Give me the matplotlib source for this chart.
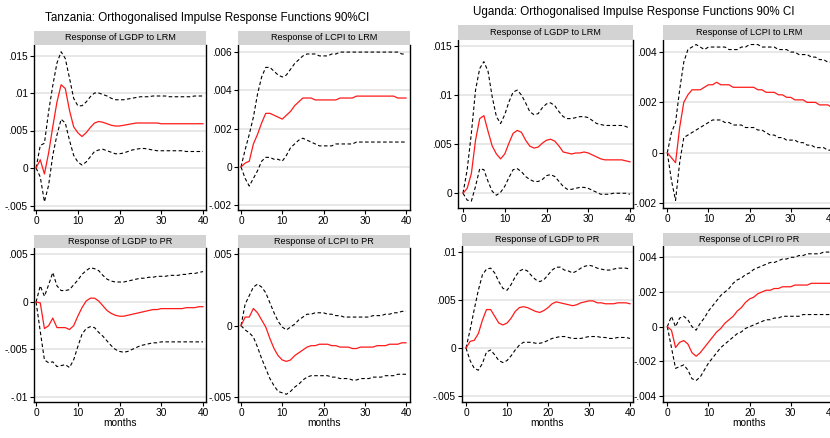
import matplotlib
matplotlib.use("Agg")
import matplotlib.pyplot as plt
import numpy as np

plt.rcParams['font.family'] = ['Liberation Sans', 'DejaVu Sans']

months = list(range(41))
x_ticks = [0, 10, 20, 30, 40]

# ---------------- Tanzania ----------------
tz_lgdp_lrm_irf = [0, .0011, -.0008, .0020, .0055, .0088, .0111, .0106, .0077, .0055, .0047,
                   .0042, .0047, .0054, .0060, .0062, .0061, .0059, .0057, .0056, .0056,
                   .0057, .0058, .0059, .0060, .0060, .0060, .0060, .0060, .0060, .0059,
                   .0059, .0059, .0059, .0059, .0059, .0059, .0059, .0059, .0059, .0059]
tz_lgdp_lrm_hi = [0, .0030, .0033, .0075, .0110, .0140, .0155, .0146, .0120, .0093, .0083,
                  .0083, .0088, .0095, .0100, .0100, .0098, .0096, .0093, .0091, .0091,
                  .0091, .0092, .0093, .0094, .0095, .0095, .0095, .0096, .0096, .0096,
                  .0096, .0095, .0095, .0095, .0095, .0095, .0095, .0096, .0096, .0096]
tz_lgdp_lrm_lo = [0, -.0012, -.0045, -.0023, .0017, .0044, .0065, .0060, .0037, .0017, .0008,
                  .0004, .0008, .0015, .0022, .0024, .0025, .0023, .0021, .0019, .0019,
                  .0020, .0022, .0024, .0025, .0026, .0026, .0025, .0024, .0023, .0023,
                  .0023, .0023, .0023, .0023, .0023, .0022, .0022, .0022, .0022, .0022]

tz_lcpi_lrm_irf = [0, .0002, .0003, .0012, .0017, .0023, .0028, .0028, .0027, .0026, .0025,
                   .0027, .0029, .0032, .0034, .0036, .0036, .0036, .0035, .0035, .0035,
                   .0035, .0035, .0035, .0036, .0036, .0036, .0036, .0037, .0037, .0037,
                   .0037, .0037, .0037, .0037, .0037, .0037, .0037, .0036, .0036, .0036]
tz_lcpi_lrm_hi = [0, .0009, .0017, .0026, .0038, .0047, .0052, .0052, .0050, .0048, .0047,
                  .0048, .0051, .0054, .0056, .0058, .0059, .0059, .0059, .0058, .0058,
                  .0058, .0059, .0059, .0060, .0060, .0060, .0060, .0060, .0060, .0060,
                  .0060, .0060, .0060, .0060, .0060, .0060, .0060, .0060, .0059, .0059]
tz_lcpi_lrm_lo = [0, -.0006, -.0010, -.0006, -.0002, .0003, .0005, .0005, .0004, .0004, .0003,
                  .0006, .0010, .0012, .0014, .0015, .0014, .0013, .0012, .0011, .0011,
                  .0011, .0011, .0012, .0012, .0012, .0012, .0012, .0013, .0013, .0013,
                  .0013, .0013, .0013, .0013, .0013, .0013, .0013, .0013, .0013, .0013]

tz_lgdp_pr_irf = [0, -.0001, -.0028, -.0025, -.0017, -.0027, -.0027, -.0027, -.0029, -.0025, -.0015,
                  -.0006, .0001, .0004, .0004, .0001, -.0004, -.0009, -.0012, -.0014, -.0015,
                  -.0015, -.0014, -.0013, -.0012, -.0011, -.0010, -.0009, -.0008, -.0008, -.0007,
                  -.0007, -.0007, -.0007, -.0007, -.0007, -.0006, -.0006, -.0006, -.0005, -.0005]
tz_lgdp_pr_hi = [0, .0017, .0006, .0018, .0031, .0017, .0012, .0012, .0013, .0018, .0023,
                 .0029, .0033, .0036, .0035, .0033, .0028, .0024, .0022, .0021, .0021,
                 .0021, .0022, .0023, .0024, .0025, .0025, .0026, .0026, .0027, .0027,
                 .0027, .0028, .0028, .0028, .0029, .0029, .0030, .0030, .0031, .0032]
tz_lgdp_pr_lo = [0, -.0031, -.0061, -.0064, -.0063, -.0068, -.0067, -.0066, -.0069, -.0061, -.0047,
                 -.0034, -.0028, -.0026, -.0027, -.0032, -.0036, -.0041, -.0046, -.0050, -.0052,
                 -.0053, -.0052, -.0050, -.0048, -.0046, -.0045, -.0044, -.0043, -.0043, -.0042,
                 -.0042, -.0042, -.0042, -.0042, -.0042, -.0042, -.0042, -.0042, -.0042, -.0042]

tz_lcpi_pr_irf = [0, .0006, .0006, .0012, .0009, .0004, -.0001, -.0009, -.0016, -.0021, -.0024,
                  -.0025, -.0024, -.0021, -.0019, -.0017, -.0015, -.0014, -.0014, -.0013, -.0013,
                  -.0013, -.0014, -.0014, -.0015, -.0015, -.0015, -.0016, -.0016, -.0015, -.0015,
                  -.0015, -.0015, -.0014, -.0014, -.0014, -.0013, -.0013, -.0013, -.0012, -.0012]
tz_lcpi_pr_hi = [0, .0015, .0021, .0027, .0029, .0027, .0023, .0016, .0009, .0003, -.0001,
                 -.0003, -.0001, .0001, .0004, .0006, .0008, .0008, .0009, .0009, .0009,
                 .0008, .0008, .0007, .0007, .0006, .0006, .0006, .0006, .0006, .0006,
                 .0006, .0007, .0007, .0007, .0008, .0008, .0009, .0009, .0010, .0010]
tz_lcpi_pr_lo = [0, -.0003, -.0005, -.0008, -.0015, -.0023, -.0030, -.0037, -.0042, -.0046, -.0047,
                 -.0048, -.0046, -.0043, -.0041, -.0038, -.0036, -.0035, -.0035, -.0035, -.0035,
                 -.0035, -.0036, -.0036, -.0037, -.0037, -.0037, -.0038, -.0038, -.0037, -.0037,
                 -.0037, -.0036, -.0036, -.0036, -.0035, -.0035, -.0035, -.0034, -.0034, -.0034]

# ---------------- Uganda ----------------
ug_lgdp_lrm_irf = [0, .0005, .0020, .0054, .0076, .0079, .0063, .0048, .0040, .0035, .0040,
                   .0051, .0061, .0064, .0062, .0054, .0048, .0046, .0047, .0051, .0054,
                   .0055, .0053, .0048, .0042, .0041, .0040, .0041, .0041, .0042, .0041,
                   .0039, .0037, .0035, .0034, .0034, .0034, .0034, .0034, .0033, .0032]
ug_lgdp_lrm_hi = [0, .0024, .0061, .0105, .0127, .0134, .0124, .0098, .0078, .0071, .0080,
                  .0093, .0103, .0105, .0100, .0092, .0083, .0080, .0081, .0087, .0091,
                  .0092, .0089, .0083, .0078, .0076, .0076, .0077, .0078, .0078, .0077,
                  .0074, .0071, .0070, .0069, .0069, .0069, .0069, .0069, .0068, .0066]
ug_lgdp_lrm_lo = [0, -.0007, -.0008, .0007, .0025, .0024, .0012, .0002, -.0002, .0001, .0007,
                  .0016, .0024, .0025, .0022, .0017, .0014, .0012, .0012, .0014, .0018,
                  .0019, .0017, .0012, .0007, .0004, .0004, .0005, .0006, .0006, .0005,
                  .0003, .0001, -.0001, -.0001, -.0001, 0, 0, 0, 0, -.0001]

ug_lcpi_lrm_irf = [0, -.0002, -.0004, .0010, .0020, .0023, .0025, .0025, .0025, .0026, .0027,
                   .0027, .0028, .0027, .0027, .0027, .0026, .0026, .0026, .0026, .0026,
                   .0026, .0025, .0025, .0024, .0024, .0024, .0023, .0023, .0022, .0022,
                   .0021, .0021, .0021, .0020, .0020, .0020, .0019, .0019, .0019, .0018]
ug_lcpi_lrm_hi = [0, .0008, .0012, .0025, .0036, .0041, .0042, .0043, .0042, .0041, .0042,
                  .0042, .0042, .0042, .0042, .0041, .0041, .0041, .0042, .0042, .0043,
                  .0043, .0043, .0042, .0042, .0042, .0042, .0041, .0041, .0041, .0040,
                  .0040, .0039, .0039, .0039, .0038, .0038, .0037, .0037, .0036, .0036]
ug_lcpi_lrm_lo = [0, -.0011, -.0019, -.0004, .0006, .0007, .0008, .0009, .0010, .0011, .0012,
                  .0013, .0013, .0013, .0012, .0012, .0011, .0011, .0011, .0010, .0010,
                  .0010, .0009, .0009, .0008, .0007, .0007, .0006, .0006, .0005, .0005,
                  .0005, .0004, .0004, .0003, .0003, .0002, .0002, .0002, .0001, .0001]

ug_lgdp_pr_irf = [0, .0007, .0008, .0015, .0029, .0040, .0040, .0033, .0026, .0024, .0026,
                  .0031, .0038, .0042, .0043, .0042, .0040, .0038, .0037, .0039, .0042,
                  .0046, .0048, .0047, .0046, .0045, .0044, .0045, .0047, .0048, .0049,
                  .0049, .0047, .0047, .0046, .0046, .0046, .0047, .0047, .0047, .0046]
ug_lgdp_pr_hi = [0, .0019, .0040, .0060, .0076, .0082, .0083, .0078, .0069, .0062, .0060,
                 .0066, .0074, .0080, .0082, .0080, .0075, .0071, .0069, .0071, .0076,
                 .0081, .0084, .0084, .0081, .0080, .0078, .0080, .0083, .0085, .0086,
                 .0085, .0083, .0082, .0081, .0081, .0082, .0083, .0083, .0083, .0082]
ug_lgdp_pr_lo = [0, -.0013, -.0021, -.0023, -.0016, -.0004, -.0002, -.0007, -.0013, -.0015, -.0013,
                 -.0008, -.0002, .0003, .0006, .0006, .0006, .0005, .0005, .0006, .0008,
                 .0010, .0011, .0012, .0012, .0011, .0010, .0010, .0010, .0011, .0012,
                 .0012, .0012, .0011, .0011, .0010, .0010, .0011, .0011, .0011, .0010]

ug_lcpi_pr_irf = [0, -.0002, -.0012, -.0009, -.0008, -.0010, -.0015, -.0017, -.0015, -.0012, -.0009,
                  -.0006, -.0003, -.0001, .0002, .0004, .0006, .0009, .0011, .0014, .0016,
                  .0017, .0019, .0020, .0021, .0021, .0022, .0022, .0023, .0023, .0023,
                  .0024, .0024, .0024, .0024, .0025, .0025, .0025, .0025, .0025, .0025]
ug_lcpi_pr_hi = [0, .0006, 0, .0005, .0006, .0004, 0, -.0002, .0002, .0005, .0009,
                 .0012, .0015, .0018, .0020, .0022, .0025, .0027, .0028, .0030, .0031,
                 .0033, .0034, .0035, .0036, .0037, .0037, .0038, .0039, .0039, .0040,
                 .0040, .0041, .0041, .0042, .0042, .0042, .0042, .0043, .0043, .0043]
ug_lcpi_pr_lo = [0, -.0012, -.0024, -.0023, -.0022, -.0025, -.0030, -.0031, -.0029, -.0025, -.0021,
                 -.0018, -.0015, -.0012, -.0010, -.0008, -.0006, -.0004, -.0003, -.0001, 0,
                 .0001, .0002, .0003, .0004, .0004, .0005, .0005, .0006, .0006, .0006,
                 .0006, .0006, .0007, .0007, .0007, .0007, .0007, .0007, .0007, .0007]

# tick values and labels (Stata style)
tz1_yt = [.015, .01, .005, 0, -.005];  tz1_yl = ['.015', '.01', '.005', '0', '-.005']
tz2_yt = [.006, .004, .002, 0, -.002]; tz2_yl = ['.006', '.004', '.002', '0', '-.002']
tz3_yt = [.005, 0, -.005, -.01];       tz3_yl = ['.005', '0', '-.005', '-.01']
tz4_yt = [.005, 0, -.005];             tz4_yl = ['.005', '0', '-.005']
ug1_yt = [.015, .01, .005, 0];         ug1_yl = ['.015', '.01', '.005', '0']
ug2_yt = [.004, .002, 0, -.002];       ug2_yl = ['.004', '.002', '0', '-.002']
ug3_yt = [.01, .005, 0, -.005];        ug3_yl = ['.01', '.005', '0', '-.005']
ug4_yt = [.004, .002, 0, -.002, -.004]; ug4_yl = ['.004', '.002', '0', '-.002', '-.004']

W, H = 830, 438
fig = plt.figure(figsize=(W / 100, H / 100), dpi=100)
fig.patch.set_facecolor('white')

STRIP = '#d3d3d3'
GRID = '#e6e6e6'
FS_TICK = 7.3
FS_STRIP = 6.6
FS_TITLE = 8.4


def panel(l, t, r, b, strip_top, title, xlim, ylim, irf, hi, lo, yt, yl, xlabel=False):
    ax = fig.add_axes([l / W, 1 - b / H, (r - l) / W, (b - t) / H])
    for yv in yt:
        ax.axhline(yv, color=GRID, lw=1.3, zorder=0)
    ax.plot(months, hi, color='black', lw=0.8, ls=(0, (3.2, 2.2)), zorder=2)
    ax.plot(months, lo, color='black', lw=0.8, ls=(0, (3.2, 2.2)), zorder=2)
    ax.plot(months, irf, color='#ff1a1a', lw=0.9, zorder=3)
    ax.set_xlim(*xlim)
    ax.set_ylim(*ylim)
    ax.set_yticks(yt)
    ax.set_yticklabels(yl)
    ax.set_xticks(x_ticks)
    ax.set_xticklabels([str(v) for v in x_ticks])
    ax.tick_params(axis='both', direction='out', length=3, width=0.8, labelsize=FS_TICK, pad=1.5,
                   colors='black')
    for s in ['left', 'right', 'bottom']:
        ax.spines[s].set_linewidth(1.0)
        ax.spines[s].set_color('black')
    ax.spines['top'].set_visible(False)
    if xlabel:
        ax.set_xlabel('months', fontsize=FS_TICK, labelpad=0)
    sa = fig.add_axes([l / W, 1 - t / H, (r - l) / W, (t - strip_top) / H])
    sa.set_facecolor(STRIP)
    for s in sa.spines.values():
        s.set_visible(False)
    sa.set_xticks([]); sa.set_yticks([])
    sa.text(0.5, 0.5, title, ha='center', va='center', fontsize=FS_STRIP, transform=sa.transAxes)
    return ax


# Tanzania
panel(34, 45, 206, 210, 31, 'Response of LGDP to LRM', (-0.5, 40.72), (-0.0056, 0.0164),
      tz_lgdp_lrm_irf, tz_lgdp_lrm_hi, tz_lgdp_lrm_lo, tz1_yt, tz1_yl)
panel(238, 45, 410, 210, 31, 'Response of LCPI to LRM', (-0.73, 40.97), (-0.00225, 0.00637),
      tz_lcpi_lrm_irf, tz_lcpi_lrm_hi, tz_lcpi_lrm_lo, tz2_yt, tz2_yl)
panel(34, 248, 206, 402, 235, 'Response of LGDP to PR', (-0.5, 40.72), (-0.01053, 0.00568),
      tz_lgdp_pr_irf, tz_lgdp_pr_hi, tz_lgdp_pr_lo, tz3_yt, tz3_yl, xlabel=True)
panel(238, 248, 410, 402, 235, 'Response of LCPI to PR', (-0.73, 40.97), (-0.00534, 0.00543),
      tz_lcpi_pr_irf, tz_lcpi_pr_hi, tz_lcpi_pr_lo, tz4_yt, tz4_yl, xlabel=True)

# Uganda
panel(458, 40, 633, 208, 25, 'Response of LGDP to LRM', (-1.2, 40.72), (-0.0015, 0.0156),
      ug_lgdp_lrm_irf, ug_lgdp_lrm_hi, ug_lgdp_lrm_lo, ug1_yt, ug1_yl)
panel(663, 40, 836, 208, 25, 'Response of LCPI to LRM', (-1.05, 41.0), (-0.0022, 0.00448),
      ug_lcpi_lrm_irf, ug_lcpi_lrm_hi, ug_lcpi_lrm_lo, ug2_yt, ug2_yl)
panel(462, 246, 633, 402, 233, 'Response of LGDP to PR', (-0.98, 40.73), (-0.0056, 0.0106),
      ug_lgdp_pr_irf, ug_lgdp_pr_hi, ug_lgdp_pr_lo, ug3_yt, ug3_yl, xlabel=True)
panel(663, 246, 836, 402, 233, 'Response of LCPI ro PR', (-1.05, 41.0), (-0.00434, 0.00465),
      ug_lcpi_pr_irf, ug_lcpi_pr_hi, ug_lcpi_pr_lo, ug4_yt, ug4_yl, xlabel=True)

fig.text(207 / W, 1 - 18 / H, 'Tanzania: Orthogonalised Impulse Response Functions 90%CI',
         ha='center', va='center', fontsize=FS_TITLE)
fig.text(634 / W, 1 - 12 / H, 'Uganda: Orthogonalised Impulse Response Functions 90% CI',
         ha='center', va='center', fontsize=FS_TITLE)

fig.savefig('out.png', dpi=100, facecolor='white')
